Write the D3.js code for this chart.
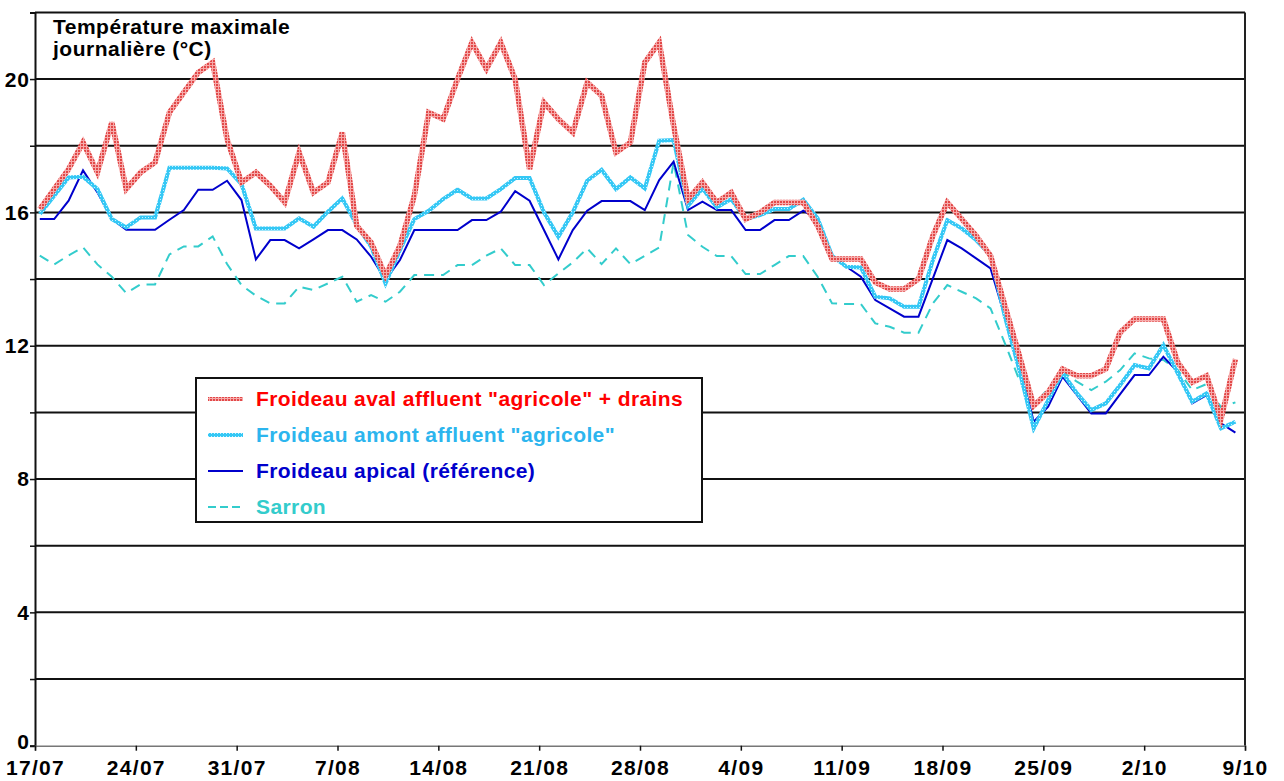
<!DOCTYPE html>
<html><head><meta charset="utf-8">
<script src="https://cdn.jsdelivr.net/npm/d3@7"></script>
<style>
html,body{margin:0;padding:0;background:#fff;}
svg{display:block;}
svg text{font-family:Arial,"Liberation Sans",sans-serif !important;font-weight:700 !important;}
</style></head>
<body>
<svg id="c" width="1284" height="781"></svg>
<script>
// ---- data ----
const startDay = "2000-07-17";
const endDay = "2000-10-09";
const measureHour = 8; // readings plotted at 08:00 of each day
const tickLabels = ["17/07","24/07","31/07","7/08","14/08","21/08","28/08","4/09","11/09","18/09","25/09","2/10","9/10"];
const yTicks = [0,4,8,12,16,20];
const seriesNames = ["Froideau aval affluent \"agricole\" + drains","Froideau amont affluent \"agricole\"","Froideau apical (référence)","Sarron"];

const aval = [16.1,16.7,17.3,18.1,17.2,18.7,16.7,17.2,17.5,19.0,19.6,20.2,20.5,18.2,16.9,17.2,16.8,16.3,17.8,16.6,
16.9,18.4,15.6,15.1,14.1,15.0,16.5,19.0,18.8,20.0,21.1,20.3,21.1,20.0,17.3,19.3,18.8,18.4,19.9,19.5,
17.8,18.1,20.5,21.1,18.6,16.4,16.9,16.3,16.6,15.8,16.0,16.3,16.3,16.3,15.6,14.6,14.6,14.6,13.9,13.7,
13.7,14.0,15.3,16.3,15.8,15.3,14.7,13.2,11.7,10.2,10.6,11.3,11.1,11.1,11.3,12.4,12.8,12.8,12.8,11.5,
10.9,11.1,9.8,11.6];
const amont = [15.95,16.5,17.05,17.07,16.7,15.8,15.55,15.85,15.85,17.34,17.34,17.34,17.34,17.32,16.85,15.52,15.52,15.52,15.82,15.57,
16.02,16.42,15.62,14.97,13.87,14.87,15.8,16.05,16.4,16.68,16.42,16.42,16.7,17.03,17.03,16.0,15.27,16.0,16.95,17.28,
16.7,17.05,16.72,18.15,18.17,16.2,16.72,16.15,16.4,15.8,15.92,16.1,16.1,16.38,15.82,14.7,14.37,14.35,13.47,13.42,
13.17,13.17,14.57,15.77,15.52,15.17,14.72,12.87,11.27,9.52,10.37,11.19,10.57,10.07,10.27,10.82,11.42,11.32,12.02,11.17,
10.32,10.57,9.52,9.72];
const apical = [15.8,15.8,16.35,17.26,16.6,15.8,15.48,15.48,15.48,15.78,16.07,16.68,16.68,16.95,16.37,14.59,15.17,15.17,14.92,15.19,
15.47,15.47,15.19,14.67,13.97,14.57,15.47,15.47,15.47,15.47,15.77,15.77,16.02,16.64,16.35,15.47,14.59,15.47,16.05,16.34,
16.34,16.34,16.07,16.97,17.52,16.07,16.32,16.07,16.07,15.47,15.47,15.77,15.77,16.05,15.8,14.67,14.37,14.07,13.37,13.12,
12.87,12.87,14.02,15.17,14.92,14.62,14.32,12.87,11.47,9.72,10.17,11.07,10.52,9.97,9.97,10.55,11.12,11.12,11.67,11.22,
10.27,10.52,9.67,9.39];
const sarron = [14.7,14.44,14.71,14.95,14.44,14.07,13.58,13.84,13.84,14.74,14.98,14.98,15.28,14.45,13.82,13.5,13.27,13.27,13.77,13.67,
13.87,14.07,13.32,13.52,13.32,13.62,14.12,14.12,14.12,14.42,14.42,14.7,14.92,14.42,14.42,13.82,14.17,14.5,14.92,14.45,
14.92,14.45,14.7,14.95,17.5,15.32,14.97,14.69,14.69,14.15,14.15,14.42,14.69,14.69,14.07,13.27,13.25,13.25,12.67,12.57,
12.39,12.39,13.27,13.82,13.62,13.42,13.12,12.07,10.97,10.2,10.72,11.22,10.92,10.67,10.92,11.27,11.77,11.62,11.57,11.27,
10.67,10.85,10.15,10.3];

// ---- layout ----
const svg = d3.select("#c");
const L = 35, R = 1245, T = 12.4, B = 745.7;
const parse = d3.utcParse("%Y-%m-%d");
const d0 = parse(startDay), d1 = parse(endDay);
const x = d3.scaleUtc().domain([d0, d1]).range([L, R]);
const y = d3.scaleLinear().domain([0, 22]).range([B, T]);
const dateOf = i => new Date(d0.getTime() + (i * 24 + measureHour) * 3600e3);

// patterns
const defs = svg.append("defs");
const pr = defs.append("pattern").attr("id","pRed").attr("patternUnits","userSpaceOnUse").attr("width",3).attr("height",3);
pr.append("rect").attr("width",3).attr("height",3).attr("fill","#f6aaaa");
pr.append("rect").attr("width",2).attr("height",2).attr("fill","#e24848");
const pc = defs.append("pattern").attr("id","pCyan").attr("patternUnits","userSpaceOnUse").attr("width",3).attr("height",3);
pc.append("rect").attr("width",3).attr("height",3).attr("fill","#35c8f5");
pc.append("rect").attr("x",1).attr("y",1).attr("width",1).attr("height",1).attr("fill","#c8f0ff");

// gridlines every 2
const gridVals = d3.range(2, 23, 2);
svg.append("g").selectAll("line").data(gridVals).join("line")
  .attr("x1", L).attr("x2", R).attr("y1", d => y(d)).attr("y2", d => y(d))
  .attr("stroke", "#111").attr("stroke-width", 2);

// right border
svg.append("line").attr("x1", R).attr("x2", R).attr("y1", y(22)).attr("y2", y(0))
  .attr("stroke", "#222").attr("stroke-width", 2);

// y axis
const yAxis = d3.axisLeft(y).tickValues(d3.range(0, 23, 2)).tickSize(5)
  .tickFormat(d => yTicks.includes(d) ? d : "");
const gy = svg.append("g").attr("transform", `translate(${L},0)`).call(yAxis);
gy.select(".domain").attr("stroke", "#111").attr("stroke-width", 2);
gy.selectAll(".tick line").attr("stroke", "#111").attr("stroke-width", 1.5);
gy.selectAll(".tick text").style("font-size", "21px").style("letter-spacing", "1px").attr("fill", "#000")
  .attr("x", -5).attr("dy", d => d === 0 ? "0.12em" : "0.33em");

// x axis
const tickDates = tickLabels.map((_, i) => d3.utcDay.offset(d0, 7 * i));
const xAxis = d3.axisBottom(x).tickValues(tickDates).tickSize(5).tickFormat((d, i) => tickLabels[i]);
const gx = svg.append("g").attr("transform", `translate(0,${B})`).call(xAxis);
gx.select(".domain").attr("stroke", "#777").attr("stroke-width", 1.5);
gx.selectAll(".tick line").attr("stroke", "#111").attr("stroke-width", 1.5);
gx.selectAll(".tick text").style("font-size", "21px").style("letter-spacing", "1.3px").attr("fill", "#000").attr("y", 14);

// lines
const line = d3.line().x((d, i) => x(dateOf(i))).y(d => y(d));
svg.append("path").datum(sarron).attr("d", line).attr("fill", "none")
  .attr("stroke", "#33cccc").attr("stroke-width", 2).attr("stroke-dasharray", "10,7");
svg.append("path").datum(apical).attr("d", line).attr("fill", "none")
  .attr("stroke", "#0000cc").attr("stroke-width", 2);
svg.append("path").datum(amont).attr("d", line).attr("fill", "none")
  .attr("stroke", "url(#pCyan)").attr("stroke-width", 4);
svg.append("path").datum(aval).attr("d", line).attr("fill", "none")
  .attr("stroke", "url(#pRed)").attr("stroke-width", 5.5);

// title
const title = svg.append("text").attr("x", 53).attr("y", 34).style("font-size", "21px")
  .style("letter-spacing", "0.5px").attr("fill", "#000");
title.append("tspan").attr("x", 53).text("Température maximale");
title.append("tspan").attr("x", 53).attr("dy", 22).text("journalière (°C)");

// legend
const lg = svg.append("g");
lg.append("rect").attr("x", 196).attr("y", 378).attr("width", 506).attr("height", 144)
  .attr("fill", "#fff").attr("stroke", "#111").attr("stroke-width", 2);
const legItems = [
  {name: seriesNames[0], color: "#ff0000", stroke: "url(#pRed)", w: 4, dash: null},
  {name: seriesNames[1], color: "#2cb5ee", stroke: "url(#pCyan)", w: 4, dash: null},
  {name: seriesNames[2], color: "#0000cc", stroke: "#0000cc", w: 2, dash: null},
  {name: seriesNames[3], color: "#33cccc", stroke: "#33cccc", w: 2, dash: "8,4"}
];
const ly = d3.scalePoint().domain(d3.range(legItems.length)).range([399, 507]);
legItems.forEach((it, i) => {
  const yy = ly(i);
  lg.append("line").attr("x1", 208).attr("x2", 243).attr("y1", yy).attr("y2", yy)
    .attr("stroke", it.stroke).attr("stroke-width", it.w).attr("stroke-dasharray", it.dash);
  lg.append("text").attr("x", 256).attr("y", yy + 7).style("font-size", "21px")
    .style("letter-spacing", "0.4px").attr("fill", it.color).text(it.name);
});
</script>
</body></html>
